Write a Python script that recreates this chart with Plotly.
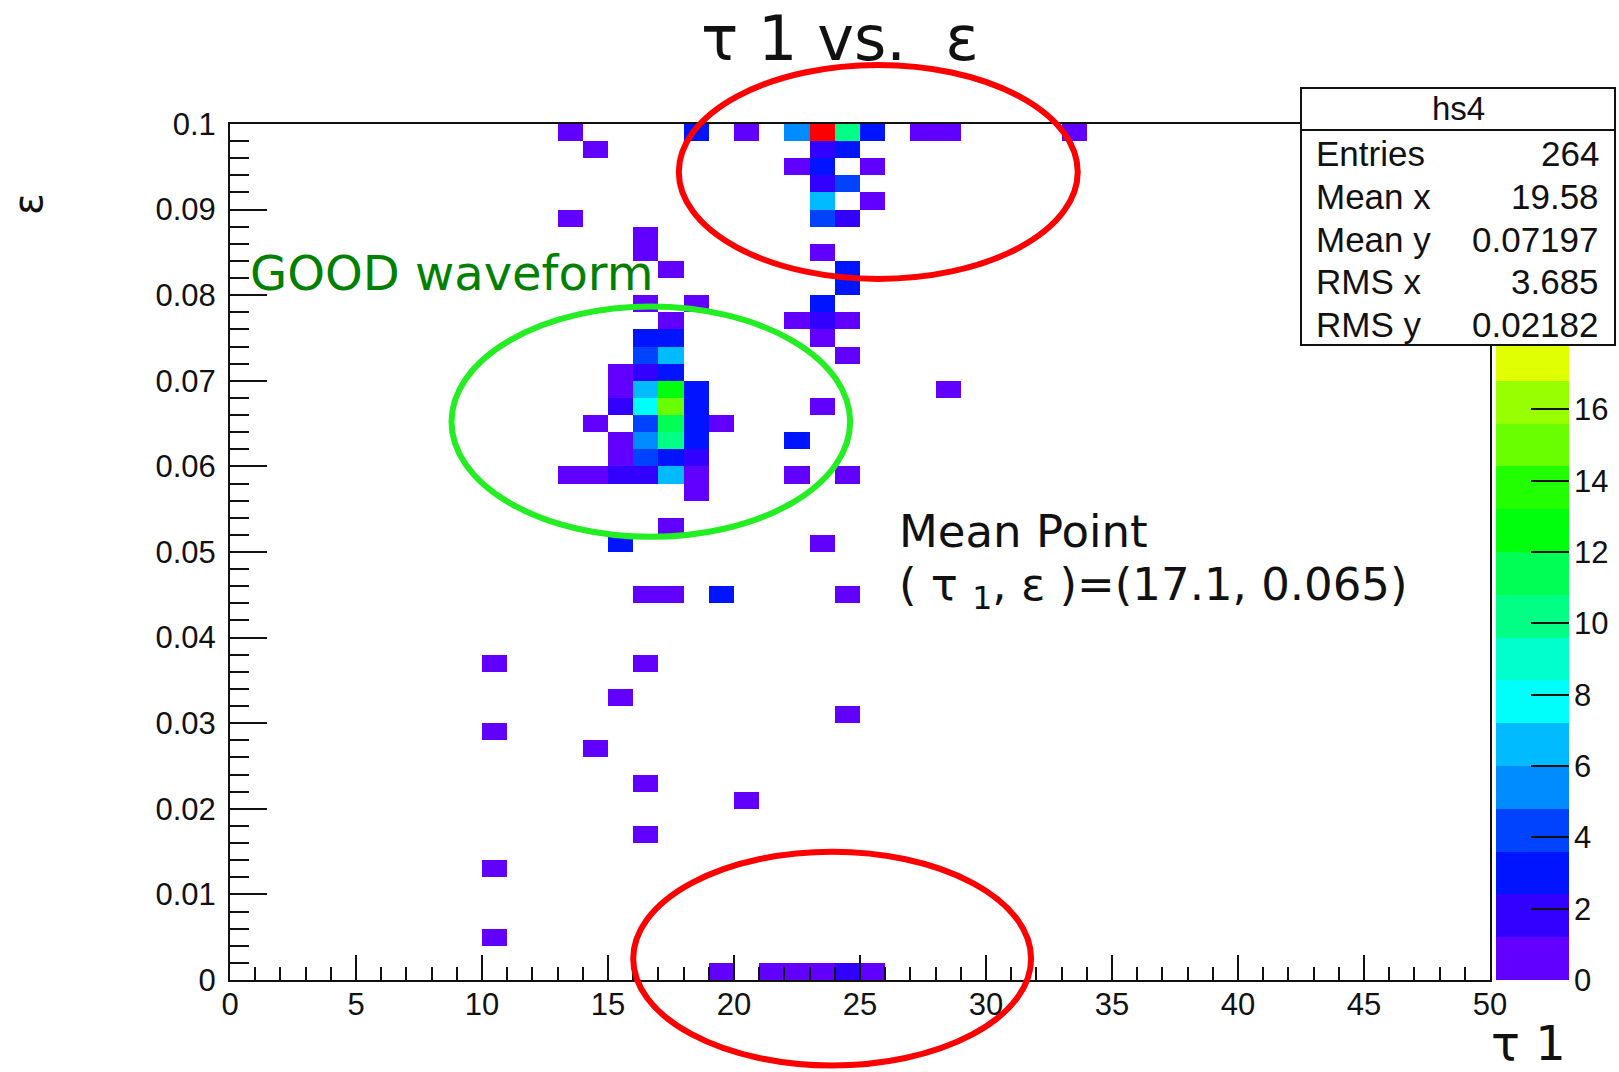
import colorsys
import numpy as np
import plotly.graph_objects as go

# ---- histogram hs4 : tau1 (50 bins, 0..50) vs epsilon (50 bins, 0..0.1) ----
# filled bins: lower edge in tau1, lower edge in epsilon, bin content
tau_lo = [13, 18, 20, 22, 23, 24, 25, 27, 28, 33,
          14, 23, 24,
          22, 23, 25,
          23, 24,
          23, 25,
          13, 23, 24,
          16,
          16, 23,
          17, 24,
          24,
          16, 18, 23,
          17, 22, 23, 24,
          16, 17, 23,
          16, 17, 24,
          15, 16, 17,
          15, 16, 17, 18, 28,
          15, 16, 17, 18, 23,
          14, 16, 17, 18, 19,
          15, 16, 17, 18, 22,
          15, 16, 17, 18,
          13, 14, 15, 16, 17, 18, 22, 24,
          18,
          17,
          15, 23,
          16, 17, 19, 24,
          10, 16,
          15,
          24,
          10,
          14,
          16,
          20,
          16,
          10,
          10,
          19, 21, 22, 23, 24, 25]
eps_lo = [0.098] * 10 + [0.096] * 3 + [0.094] * 3 + [0.092] * 2 + [0.090] * 2 \
    + [0.088] * 3 + [0.086] + [0.084] * 2 + [0.082] * 2 + [0.080] \
    + [0.078] * 3 + [0.076] * 4 + [0.074] * 3 + [0.072] * 3 + [0.070] * 3 \
    + [0.068] * 5 + [0.066] * 5 + [0.064] * 5 + [0.062] * 5 + [0.060] * 4 \
    + [0.058] * 8 + [0.056] + [0.052] + [0.050] * 2 + [0.044] * 4 \
    + [0.036] * 2 + [0.032] + [0.030] + [0.028] + [0.026] + [0.022] \
    + [0.020] + [0.016] + [0.012] + [0.004] + [0.000] * 6
counts = [1, 3, 1, 5, 23, 10, 3, 1, 1, 1,
          1, 2, 3,
          1, 3, 1,
          2, 4,
          7, 1,
          1, 4, 2,
          1,
          1, 1,
          1, 3,
          3,
          1, 1, 3,
          1, 1, 2, 1,
          3, 3, 1,
          4, 7, 1,
          1, 2, 3,
          1, 7, 13, 3, 1,
          2, 8, 15, 3, 1,
          1, 4, 11, 3, 1,
          1, 5, 10, 3, 3,
          1, 4, 3, 2,
          1, 1, 2, 2, 7, 1, 1, 1,
          1,
          1,
          3, 1,
          1, 1, 3, 1,
          1, 1,
          1,
          1,
          1,
          1,
          1,
          1,
          1,
          1,
          1,
          1, 1, 1, 1, 2, 1]

n_tau, tau_min, tau_max = 50, 0.0, 50.0
n_eps, eps_min, eps_max = 50, 0.0, 0.1
z_min, z_max, n_contours = 0.0, 24.0, 20

x_ticks = list(range(0, 51, 5))
y_ticks = [0.0, 0.01, 0.02, 0.03, 0.04, 0.05, 0.06, 0.07, 0.08, 0.09, 0.1]
y_ticktext = ["0", "0.01", "0.02", "0.03", "0.04", "0.05", "0.06",
              "0.07", "0.08", "0.09", "0.1"]
z_ticks = list(range(0, 17, 2))

stat_names = ["Entries", "Mean x", "Mean y", "RMS x", "RMS y"]
stat_values = ["264", "19.58", "0.07197", "3.685", "0.02182"]

# ---- bin grid ----
tau_w = (tau_max - tau_min) / n_tau
eps_w = (eps_max - eps_min) / n_eps
tau_c = tau_min + tau_w * (np.arange(n_tau) + 0.5)
eps_c = eps_min + eps_w * (np.arange(n_eps) + 0.5)
z = np.full((n_eps, n_tau), np.nan)
for t, e, c in zip(tau_lo, eps_lo, counts):
    z[int(round((e - eps_min) / eps_w)), int(round((t - tau_min) / tau_w))] = c

# ---- ROOT-like rainbow palette (50 colours), sampled on 20 contour levels ----
def palette_color(i, ncol=50):
    hue = 280.0 - (i + 1) * 280.0 / ncol
    r, g, b = colorsys.hls_to_rgb(hue / 360.0, 0.5, 1.0)
    return f"rgb({int(r * 255)},{int(g * 255)},{int(b * 255)})"

band_colors = [palette_color(int((k + 0.99) * 50 / n_contours)) for k in range(n_contours)]
colorscale = []
for k, col in enumerate(band_colors):
    colorscale.append([k / n_contours, col])
    colorscale.append([(k + 1) / n_contours, col])

# ---- page geometry ----
W, H = 1619, 1072
ML, MR, MT, MB = 230, 0, 124, 92
PW, PH = W - ML - MR, H - MT - MB


def fx(px):
    return (px - ML) / PW


def fy(py):
    return (H - MB - py) / PH


main_right = fx(1490)
cb_dom = [fx(1496), fx(1569)]


def dx(x):
    return (x - tau_min) / (tau_max - tau_min) * main_right


def dy(y):
    return (y - eps_min) / (eps_max - eps_min)


fig = go.Figure()

fig.add_trace(go.Heatmap(
    x=tau_c, y=eps_c, z=z, zmin=z_min, zmax=z_max,
    colorscale=colorscale, showscale=False, hoverongaps=False,
    xaxis="x", yaxis="y",
))

# palette column
band_w = (z_max - z_min) / n_contours
band_mid = [z_min + band_w * (k + 0.5) for k in range(n_contours)]
fig.add_trace(go.Heatmap(
    x=[0.5], y=band_mid, z=[[v] for v in band_mid], zmin=z_min, zmax=z_max,
    colorscale=colorscale, showscale=False, xaxis="x2", yaxis="y2",
    hoverinfo="skip",
))

tick_font = dict(family="Liberation Sans, Arial, sans-serif", size=31, color="#111")

fig.update_layout(
    width=W, height=H,
    margin=dict(l=ML, r=MR, t=MT, b=MB, autoexpand=False),
    paper_bgcolor="white", plot_bgcolor="white",
    showlegend=False,
    xaxis=dict(
        domain=[0, main_right], range=[tau_min, tau_max], anchor="y",
        tickmode="array", tickvals=x_ticks, ticks="inside", ticklen=25,
        tickwidth=2, tickcolor="#111",
        minor=dict(ticks="inside", ticklen=13, tickwidth=2, tickcolor="#111",
                   tick0=0, dtick=1),
        showline=True, linecolor="#111", linewidth=2, mirror=True,
        showgrid=False, zeroline=False, tickfont=tick_font,
        ticklabelstandoff=-4,
    ),
    yaxis=dict(
        domain=[0, 1], range=[eps_min, eps_max], anchor="x",
        tickmode="array", tickvals=y_ticks, ticktext=y_ticktext,
        ticks="inside", ticklen=37, tickwidth=2, tickcolor="#111",
        minor=dict(ticks="inside", ticklen=19, tickwidth=2, tickcolor="#111",
                   tick0=0, dtick=0.002),
        showline=True, linecolor="#111", linewidth=2, mirror=True,
        showgrid=False, zeroline=False, tickfont=tick_font,
        ticklabelstandoff=6,
    ),
    xaxis2=dict(domain=cb_dom, range=[0, 1], anchor="y2", visible=False,
                fixedrange=True),
    yaxis2=dict(domain=[0, 1], range=[z_min, z_max], anchor="x2", side="right",
                tickmode="array", tickvals=z_ticks, ticks="inside", ticklen=38,
                tickwidth=2, tickcolor="#111", showline=False, showgrid=False,
                zeroline=False, tickfont=tick_font, ticklabelstandoff=4),
)

shapes = []
# hand-drawn style rings around the regions of interest
for (x0, x1, y0, y1, col) in [
    (17.81, 33.64, 0.0819, 0.1069, "#ff0000"),
    (8.79, 24.61, 0.05177, 0.07867, "#22ee22"),
    (16.0, 31.79, -0.00999, 0.01498, "#ff0000"),
]:
    shapes.append(dict(type="circle", xref="paper", yref="paper",
                       x0=dx(x0), x1=dx(x1), y0=dy(y0), y1=dy(y1),
                       line=dict(color=col, width=6), layer="above"))

# statistics box
sx0, sx1, sy_top, sy_bot, sy_head = 1301, 1615, 88, 345, 130
shapes.append(dict(type="rect", xref="paper", yref="paper",
                   x0=fx(sx0), x1=fx(sx1), y0=fy(sy_bot), y1=fy(sy_top),
                   fillcolor="white", line=dict(color="#111", width=2),
                   layer="above"))
shapes.append(dict(type="line", xref="paper", yref="paper",
                   x0=fx(sx0), x1=fx(sx1), y0=fy(sy_head), y1=fy(sy_head),
                   line=dict(color="#111", width=2), layer="above"))
fig.update_layout(shapes=shapes)

deja = "DejaVu Sans, Noto Sans, sans-serif"
helv = "Liberation Sans, Arial, sans-serif"
ann = []


def text(px, py, s, size, family, color="#111", xanchor="center", angle=0):
    ann.append(dict(x=fx(px), y=fy(py), xref="paper", yref="paper", text=s,
                    showarrow=False, xanchor=xanchor, yanchor="middle",
                    textangle=angle,
                    font=dict(family=family, size=size, color=color)))


text(840, 39, "τ 1 vs.  ε", 62, deja)
text(1528, 1043, "τ 1", 48, deja)
text(28, 204, "ε", 40, deja, angle=-90)
text(248, 273, "GOOD waveform", 48, deja, color="#008000", xanchor="left")
text(897, 531, "Mean Point", 45, deja, xanchor="left")
text(897, 587, "( τ <sub>1</sub>, ε )=(17.1, 0.065)", 45, deja, xanchor="left")

text((sx0 + sx1) / 2, 109, "hs4", 33, helv)
row_y = [154, 196.5, 239, 281.5, 324]
for name, val, yy in zip(stat_names, stat_values, row_y):
    text(1314, yy, name, 35, helv, xanchor="left")
    text(1601, yy, val, 35, helv, xanchor="right")

fig.update_layout(annotations=ann)

fig.write_html("out.html")
